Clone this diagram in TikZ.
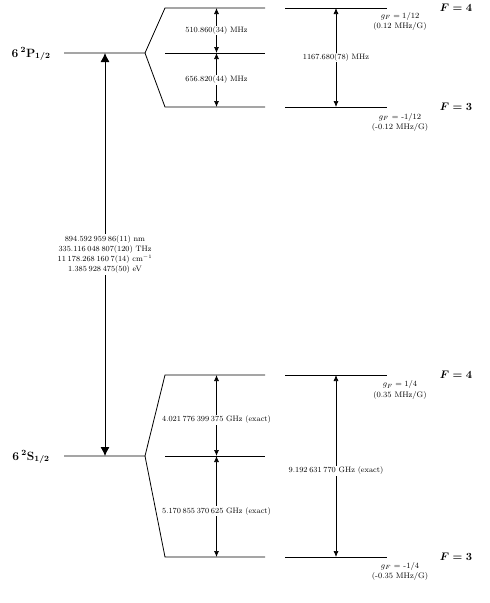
\documentclass[tikz,border=0pt]{standalone}
\usetikzlibrary{arrows.meta}
\newcommand{\grp}{\hspace{0.22em}}
\begin{document}
\begin{tikzpicture}[x=1pt,y=-1pt,
  level/.style={line width=0.8pt},
  split/.style={line width=0.7pt,
    {Latex[length=6pt,width=5pt]}-{Latex[length=6pt,width=5pt]}},
  optical/.style={line width=0.8pt,
    {Latex[length=9pt,width=9pt]}-{Latex[length=9pt,width=9pt]}},
  val/.style={fill=white, inner sep=1pt, font=\fontsize{7.8}{10.3}\selectfont},
  gf/.style={align=center, inner sep=0pt, font=\fontsize{8}{10.5}\selectfont},
  term/.style={anchor=base, inner sep=0pt, font=\fontsize{12}{14}\selectfont\boldmath},
  fnum/.style={inner sep=0pt, font=\fontsize{11}{13}\selectfont\boldmath}]
\useasboundingbox (0,0) rectangle (490,603);

% ---------- 6^2P_{1/2} manifold ----------
\coordinate (Pa) at (64,53);   \coordinate (Pb) at (145,53);
\coordinate (P4a) at (165,8);  \coordinate (P4b) at (265,8);
\coordinate (P4c) at (285,8);  \coordinate (P4d) at (387,8);
\coordinate (Pma) at (165,53); \coordinate (Pmb) at (265,53);
\coordinate (P3a) at (165,107);\coordinate (P3b) at (265,107);
\coordinate (P3c) at (285,107);\coordinate (P3d) at (387,107);

\draw[level] (Pa) -- (Pb) -- (P4a) -- (P4b);
\draw[level] (Pb) -- (P3a) -- (P3b);
\draw[level] (Pma) -- (Pmb);
\draw[level] (P4c) -- (P4d);
\draw[level] (P3c) -- (P3d);

\node[term] (Pterm) at (31,57) {$6\,^{2}\mathrm{P}_{1/2}$};

\coordinate (pu1) at (216.5,8);
\coordinate (pu2) at (216.5,53);
\coordinate (pu3) at (216.5,107);
\draw[split] (pu1) -- node[val] (p43) {510.860(34) MHz} (pu2);
\draw[split] (pu2) -- node[val] (p33) {656.820(44) MHz} (pu3);

\coordinate (pr1) at (336,8);
\coordinate (pr2) at (336,107);
\draw[split] (pr1) -- node[val] (phfs) {1167.680(78) MHz} (pr2);

\node[gf] (gP4) at (400,21.5) {$g_F = 1/12$\\(0.12 MHz/G)};
\node[gf] (gP3) at (400,122.5) {$g_F$ = -1/12\\(-0.12 MHz/G)};
\node[fnum] (FP4) at (456,8) {$F = 4$};
\node[fnum] (FP3) at (456,107) {$F = 3$};

% ---------- 6^2S_{1/2} manifold ----------
\coordinate (Sa) at (64,456);   \coordinate (Sb) at (145,456);
\coordinate (S4a) at (165,375); \coordinate (S4b) at (265,375);
\coordinate (S4c) at (285,375); \coordinate (S4d) at (387,375);
\coordinate (Sma) at (165,456); \coordinate (Smb) at (265,456);
\coordinate (S3a) at (165,557); \coordinate (S3b) at (265,557);
\coordinate (S3c) at (285,557); \coordinate (S3d) at (387,557);

\draw[level] (Sa) -- (Sb) -- (S4a) -- (S4b);
\draw[level] (Sb) -- (S3a) -- (S3b);
\draw[level] (Sma) -- (Smb);
\draw[level] (S4c) -- (S4d);
\draw[level] (S3c) -- (S3d);

\node[term] (Sterm) at (31,460) {$6\,^{2}\mathrm{S}_{1/2}$};

\coordinate (su1) at (216.5,375);
\coordinate (su2) at (216.5,456);
\coordinate (su3) at (216.5,557);
\draw[split] (su1) -- node[val, pos=0.556] (s43) {4.021\grp776\grp399\grp375 GHz (exact)} (su2);
\draw[split] (su2) -- node[val, pos=0.545] (s33) {5.170\grp855\grp370\grp625 GHz (exact)} (su3);

\coordinate (sr1) at (336,375);
\coordinate (sr2) at (336,557);
\draw[split] (sr1) -- node[val, pos=0.527] (shfs) {9.192\grp631\grp770 GHz (exact)} (sr2);

\node[gf] (gS4) at (400,390) {$g_F = 1/4$\\(0.35 MHz/G)};
\node[gf] (gS3) at (400,571.5) {$g_F$ = -1/4\\(-0.35 MHz/G)};
\node[fnum] (FS4) at (456,375) {$F = 4$};
\node[fnum] (FS3) at (456,557) {$F = 3$};

% ---------- D1 optical transition ----------
\coordinate (ta) at (105,456);
\coordinate (tb) at (105,53);
\draw[optical] (ta) -- node[val, align=center] (d1) {894.592\grp959\grp86(11) nm\\
  335.116\grp048\grp807(120) THz\\
  11\grp178.268\grp160\grp7(14) cm$^{-1}$\\
  1.385\grp928\grp475(50) eV} (tb);
\end{tikzpicture}
\end{document}
